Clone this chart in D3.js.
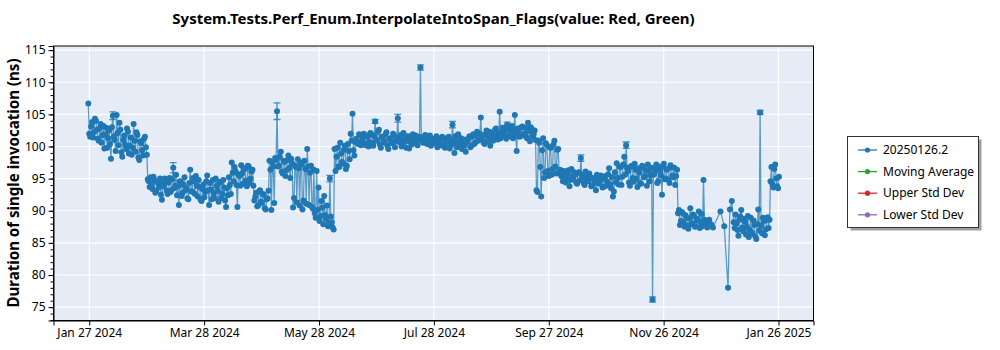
<!DOCTYPE html>
<html><head><meta charset="utf-8">
<script src="https://cdn.jsdelivr.net/npm/d3@7"></script>
<style>
body{margin:0;background:#fff;}
svg text{font-family:"Segoe UI","Noto Sans","Open Sans",sans-serif;fill:#000;}
</style>
</head><body>
<svg id="chart" width="1000" height="350"></svg>
<script>
const title = "System.Tests.Perf_Enum.InterpolateIntoSpan_Flags(value: Red, Green)";
const yLabel = "Duration of single invocation (ns)";
const startDate = "2024-01-27T00:00:00Z";
// first run of each day (00:00) from startDate; null = no run
const valuesAM = [
106.7,101.5,103.8,102.2,104.0,101.2,102.8,100.6,103.2,101.9,
99.8,102.5,98.1,104.8,101.0,104.9,100.2,102.6,98.4,101.7,
99.6,102.3,100.1,98.7,103.5,99.2,101.8,97.9,100.5,98.6,
101.5,98.7,94.6,95.2,93.4,94.8,93.0,94.3,95.0,91.7,
93.8,94.7,92.6,95.1,93.2,96.7,93.9,92.4,90.9,94.5,
92.8,95.2,93.5,91.8,96.4,93.0,94.6,95.4,92.2,93.7,
91.5,94.1,92.9,95.5,90.9,93.3,94.8,92.0,93.9,91.4,
94.4,92.7,93.6,90.6,92.4,94.0,97.5,94.6,96.2,90.6,
95.4,97.1,94.2,96.5,93.8,96.9,95.0,96.4,91.6,92.8,
90.8,93.2,91.2,92.5,90.2,91.9,97.8,90.1,96.9,98.2,
105.5,97.0,99.2,95.8,97.6,96.3,98.6,95.1,97.4,92.0,
96.8,98.0,90.8,97.2,91.6,96.5,99.6,90.9,97.0,90.3,
89.6,96.2,93.6,89.2,90.5,92.3,88.7,87.6,95.0,88.2,
87.1,96.2,99.8,96.8,98.9,97.3,100.1,97.0,99.3,102.0,
105.1,98.6,101.2,100.4,101.8,100.9,102.0,100.2,101.5,100.7,
101.9,100.1,103.9,101.0,102.6,99.8,101.4,100.6,102.2,99.6,
101.3,100.5,101.8,100.9,104.4,101.2,100.0,102.1,100.8,101.6,
99.7,101.1,101.9,100.6,101.4,101.0,112.3,101.3,100.7,101.5,
100.9,101.7,100.3,101.2,100.5,99.9,101.0,100.4,101.3,99.8,
100.6,101.5,100.2,103.4,99.0,100.8,101.9,100.3,99.6,101.1,
99.2,100.8,101.6,100.1,101.9,100.6,102.3,101.0,104.5,101.7,
100.4,102.5,101.2,100.1,102.0,101.4,102.8,101.1,105.4,102.2,
101.6,103.0,103.4,101.8,102.6,101.3,104.9,99.3,102.4,101.6,
103.1,102.0,101.5,103.7,100.8,102.7,101.9,101.0,92.9,100.6,
92.2,101.3,96.0,100.2,95.4,99.8,96.5,100.9,95.8,99.6,
96.4,95.3,96.2,94.4,95.8,93.8,96.5,94.9,95.6,94.2,
96.0,98.2,95.1,94.0,95.7,94.6,95.2,93.9,94.8,93.2,
95.0,94.3,94.9,93.7,95.4,94.5,96.6,93.5,92.2,96.0,
97.4,94.1,96.8,95.3,98.4,100.2,96.2,93.9,97.0,94.5,
96.4,93.7,95.9,94.2,96.7,95.4,93.9,96.3,95.5,76.2,
95.8,97.2,94.6,96.1,92.5,97.3,95.0,96.5,94.3,96.8,
95.2,94.0,96.4,90.1,88.4,89.6,87.5,88.9,87.2,90.4,
88.0,89.2,87.6,88.7,87.3,89.5,94.8,88.1,87.4,88.6,
87.9,87.4,null,null,null,89.9,null,87.6,null,78.0,
90.2,91.5,88.2,89.4,87.0,88.6,90.1,86.8,88.3,87.5,
85.9,88.9,86.4,87.8,85.6,90.2,105.3,86.5,88.4,87.1,
89.0,88.6,96.8,93.6,97.2,93.8,95.3
];
// second run of each day (12:00); null = no run
const valuesPM = [
102.0,103.1,101.4,104.3,102.6,100.9,103.5,101.8,99.7,102.9,
101.3,100.4,103.0,101.6,99.3,102.1,103.7,99.1,101.0,100.3,
102.8,98.9,101.4,99.8,100.9,102.2,98.3,100.8,99.4,101.2,
99.9,94.9,93.7,94.1,95.3,92.8,94.5,93.6,92.5,94.2,
95.0,93.1,94.4,92.9,94.9,93.5,95.6,93.8,94.6,92.3,
94.0,93.2,91.9,94.3,93.0,95.1,92.6,93.9,94.8,91.7,
93.4,92.1,94.6,93.2,94.3,91.8,92.7,95.0,93.1,94.5,
92.0,94.8,91.6,93.5,95.2,92.6,95.9,96.8,94.0,95.7,
93.9,95.8,96.6,94.7,97.0,94.3,96.1,93.9,92.2,90.7,
93.0,91.4,92.6,90.4,91.8,93.1,96.4,97.6,91.2,97.9,
96.9,98.4,96.1,97.8,95.4,97.9,96.7,98.1,90.5,97.1,
91.3,96.6,97.5,90.2,97.8,91.1,96.9,95.9,90.6,96.4,
88.9,90.1,88.4,91.5,87.9,89.3,90.8,88.0,89.1,87.4,
99.6,98.4,96.9,100.6,97.6,99.5,96.5,100.4,98.0,100.9,
99.4,100.7,100.6,101.9,100.2,101.4,100.5,101.7,100.0,102.1,
100.5,101.6,100.9,102.3,100.3,101.5,100.8,101.9,100.1,101.2,
100.6,102.0,99.9,101.4,100.7,101.8,100.4,101.1,99.8,100.9,
101.6,100.3,100.8,101.7,100.2,101.5,101.0,100.6,101.8,100.4,
101.3,100.1,101.0,100.7,101.6,100.8,100.2,101.5,100.0,101.1,
101.4,99.7,101.0,100.5,101.6,99.9,100.5,101.3,100.9,100.2,
100.7,101.3,99.9,101.5,100.4,101.8,100.9,102.0,101.2,100.6,
101.9,100.8,102.3,101.5,100.9,102.6,101.7,102.1,101.3,102.9,
102.4,101.2,102.7,101.6,103.2,102.3,101.7,102.8,101.5,103.0,
101.8,102.9,101.3,102.4,103.0,101.6,102.5,93.2,100.9,96.8,
99.4,95.1,100.5,96.2,99.9,95.6,100.3,96.9,99.5,95.9,
95.5,94.6,95.9,95.0,96.3,94.8,95.3,96.0,94.4,95.9,
94.7,95.6,94.3,96.1,94.9,95.8,93.8,95.1,94.5,95.6,
94.2,95.5,93.6,94.9,93.9,95.7,94.1,95.2,93.0,94.4,
95.1,96.9,94.0,97.2,95.6,96.7,94.4,96.9,95.1,97.3,
95.0,96.6,94.3,97.0,95.2,96.3,97.2,94.6,96.7,95.6,
96.5,94.3,96.9,95.5,96.9,94.9,96.4,94.8,97.1,95.5,
96.7,95.4,89.6,87.8,89.8,88.1,89.3,87.7,88.8,87.9,
89.4,87.5,88.5,89.9,88.2,87.6,88.6,null,null,null,
null,null,null,null,null,null,null,null,null,null,
null,null,87.3,88.0,86.1,89.1,87.4,88.7,86.3,89.2,
87.0,86.6,88.5,86.0,87.9,86.9,87.7,88.9,86.2,88.6,
87.3,94.6,94.2,96.5,95.0,93.5,null
];
const errDays  = [13, 45, 100, 128, 152, 164, 176, 193, 222, 261, 285, 299, 356];
const errSizes = [0.6, 0.8, 1.3, 0.5, 0.3, 0.6, 0.4, 0.5, 0.4, 0.5, 0.5, 0.4, 0.3];
const xTickDates = ["2024-01-27T12:00:00Z","2024-03-28T09:00:00Z","2024-05-28T06:00:00Z","2024-07-28T03:00:00Z","2024-09-27T00:00:00Z","2024-11-26T21:00:00Z","2025-01-26T18:00:00Z"];
const xTickLabels = ["Jan 27 2024","Mar 28 2024","May 28 2024","Jul 28 2024","Sep 27 2024","Nov 26 2024","Jan 26 2025"];
const yTicks = [75,80,85,90,95,100,105,110,115];
const legendLabels = ["20250126.2","Moving Average","Upper Std Dev","Lower Std Dev"];
const legendColors = ["#1f77b4","#2ca02c","#d62728","#9467bd"];

const svg = d3.select("#chart");
const L = 53.5, R = 813.5, T = 46, B = 320.5;
const t0 = new Date(startDate);
const pts = [];
valuesAM.forEach((v,i)=>{ if(v!==null) pts.push({date:d3.utcDay.offset(t0,i), v}); });
valuesPM.forEach((v,i)=>{ if(v!==null) pts.push({date:d3.utcHour.offset(d3.utcDay.offset(t0,i),12), v}); });
pts.sort((a,b)=>a.date-b.date);

const x = d3.scaleUtc().domain([new Date("2024-01-08T13:00:00Z"), new Date("2025-02-14T07:00:00Z")]).range([L,R]);
const y = d3.scaleLinear().domain([72.92,115.64]).range([B,T]);

svg.append("rect").attr("x",L).attr("y",T).attr("width",R-L).attr("height",B-T).attr("fill","#e5ecf6");

// grid
svg.append("g").selectAll("line").data(yTicks).join("line")
  .attr("x1",L).attr("x2",R).attr("y1",d=>y(d)).attr("y2",d=>y(d))
  .attr("stroke","#fff").attr("stroke-width",1.2);
svg.append("g").selectAll("line").data(xTickDates).join("line")
  .attr("x1",d=>x(new Date(d))).attr("x2",d=>x(new Date(d))).attr("y1",T).attr("y2",B)
  .attr("stroke","#fff").attr("stroke-width",1.2);

// data
svg.append("clipPath").attr("id","pc").append("rect").attr("x",L).attr("y",T).attr("width",R-L).attr("height",B-T);
const g = svg.append("g").attr("clip-path","url(#pc)");
const color = legendColors[0];
g.append("path").datum(pts)
  .attr("d", d3.line().x(d=>x(d.date)).y(d=>y(d.v)))
  .attr("fill","none").attr("stroke",color).attr("stroke-width",1.3).attr("stroke-opacity",0.7);
const eb = errDays.map((d,k)=>({date:d3.utcDay.offset(t0,d), v:valuesAM[d], e:errSizes[k]}));
const ebG = g.append("g").attr("stroke",color).attr("stroke-width",1.3).attr("stroke-opacity",0.8);
eb.forEach(d=>{
  const cx = x(d.date);
  ebG.append("line").attr("x1",cx).attr("x2",cx).attr("y1",y(d.v-d.e)).attr("y2",y(d.v+d.e));
  ebG.append("line").attr("x1",cx-3.5).attr("x2",cx+3.5).attr("y1",y(d.v-d.e)).attr("y2",y(d.v-d.e));
  ebG.append("line").attr("x1",cx-3.5).attr("x2",cx+3.5).attr("y1",y(d.v+d.e)).attr("y2",y(d.v+d.e));
});
g.append("g").selectAll("circle").data(pts).join("circle")
  .attr("cx",d=>x(d.date)).attr("cy",d=>y(d.v)).attr("r",3).attr("fill",color);

// frame
svg.append("rect").attr("x",L).attr("y",T).attr("width",R-L).attr("height",B-T).attr("fill","none").attr("stroke","#000").attr("stroke-width",1);

// y axis
svg.append("g").attr("transform",`translate(${L},0)`)
  .call(d3.axisLeft(y).tickValues(yTicks).tickSize(5).tickPadding(3).tickFormat(d3.format("d")));
svg.append("g").attr("transform",`translate(${L},0)`)
  .call(d3.axisLeft(y).tickValues(d3.range(73,116)).tickSize(3).tickFormat(""))
  .call(s=>s.select(".domain").remove());
// x axis
svg.append("g").attr("transform",`translate(0,${B})`)
  .call(d3.axisBottom(x).tickValues(xTickDates.map(d=>new Date(d))).tickSize(5).tickPadding(3).tickFormat((d,i)=>xTickLabels[i]));
svg.selectAll(".tick text").attr("font-size",12).attr("font-family",null);
svg.selectAll(".domain, .tick line").attr("stroke","#000");

// titles
svg.append("text").attr("x",433.5).attr("y",24).attr("text-anchor","middle")
  .attr("font-size",15).attr("font-weight","bold").text(title);
svg.append("text").attr("transform","translate(19,183) rotate(-90)").attr("text-anchor","middle")
  .attr("font-size",16).attr("font-weight","bold")
  .attr("textLength",249).attr("lengthAdjust","spacingAndGlyphs").text(yLabel);

// legend
const lg = svg.append("g");
lg.append("rect").attr("x",850.5).attr("y",139.5).attr("width",131).attr("height",91).attr("fill","#a0a0a0");
lg.append("rect").attr("x",847.5).attr("y",136.5).attr("width",131).attr("height",91).attr("fill","#fff").attr("stroke","#333");
legendLabels.forEach((lab,i)=>{
  const yy = 150 + i*21.6;
  lg.append("line").attr("x1",858).attr("x2",877).attr("y1",yy).attr("y2",yy).attr("stroke",legendColors[i]).attr("stroke-width",1.3);
  lg.append("circle").attr("cx",867.5).attr("cy",yy).attr("r",2.6).attr("fill",legendColors[i]);
  lg.append("text").attr("x",883).attr("y",yy).attr("dy","0.35em").attr("font-size",12).text(lab);
});
</script>
</body></html>
